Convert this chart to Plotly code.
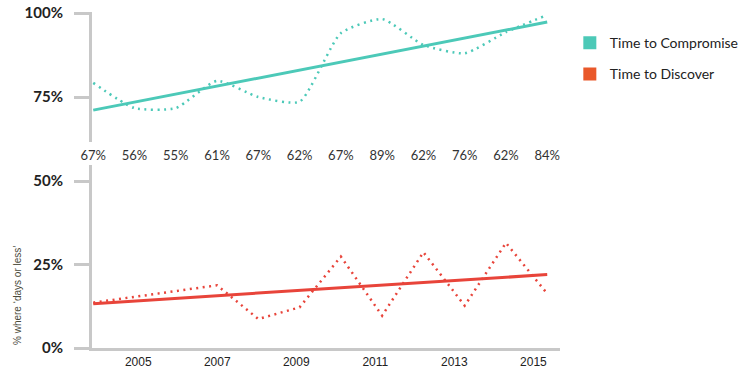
import plotly.graph_objects as go
from plotly.subplots import make_subplots

# ---- data ----
point_labels = ["67%", "56%", "55%", "61%", "67%", "62%", "67%", "89%", "62%", "76%", "62%", "84%"]
compromise = [79.2, 71.7, 71.7, 79.8, 75.0, 73.6, 94.0, 98.2, 90.5, 88.0, 94.3, 99.4]
compromise_trend = [71.1, 97.3]
discover = [13.6, 15.3, 17.1, 18.8, 8.7, 12.2, 27.4, 9.7, 28.7, 12.7, 31.5, 16.3]
discover_trend = [13.3, 22.0]
year_labels = ["2005", "2007", "2009", "2011", "2013", "2015"]
top_ticks = [75, 100]
bottom_ticks = [0, 25, 50]

TEAL = "#4cc9b8"
RED = "#e8443a"
LEG_TEAL = "#4cc9b7"
LEG_RED = "#e9582a"
AXIS = "#c8c8c8"
DOTS = "2px,4.5px"

idx = list(range(len(point_labels)))
ends = [idx[0], idx[-1]]
# year tick positions on the index scale (first year label sits just after point 1)
year_pos = [1.09 + k * 1.915 for k in range(len(year_labels))]

fig = make_subplots(rows=2, cols=1, shared_xaxes=False, vertical_spacing=0.0)

fig.add_trace(go.Scatter(x=idx, y=compromise, mode="lines",
                         line=dict(color=TEAL, width=2.5, dash=DOTS, shape="spline", smoothing=0.55),
                         showlegend=False, hoverinfo="skip"), row=1, col=1)
fig.add_trace(go.Scatter(x=ends, y=compromise_trend, mode="lines",
                         line=dict(color=TEAL, width=3), showlegend=False), row=1, col=1)
fig.add_trace(go.Scatter(x=idx, y=discover, mode="lines",
                         line=dict(color=RED, width=2.5, dash=DOTS),
                         showlegend=False, hoverinfo="skip"), row=2, col=1)
fig.add_trace(go.Scatter(x=ends, y=discover_trend, mode="lines",
                         line=dict(color=RED, width=3), showlegend=False), row=2, col=1)

# legend entries (square swatches)
fig.add_trace(go.Scatter(x=[None], y=[None], mode="markers", name="Time to Compromise",
                         marker=dict(symbol="square", size=13, color=LEG_TEAL),
                         legendgroup="a"), row=1, col=1)
fig.add_trace(go.Scatter(x=[None], y=[None], mode="markers", name="Time to Discover",
                         marker=dict(symbol="square", size=13, color=LEG_RED),
                         legendgroup="b"), row=1, col=1)

xr = [-0.03, 11.31]
pct = lambda vals: [f"{v}%" for v in vals]
ytick_font = dict(family="Lato", size=15, color="#222", weight="bold")
fig.update_layout(
    width=751, height=375,
    margin=dict(l=92, r=191, t=12, b=27, autoexpand=False),
    plot_bgcolor="white", paper_bgcolor="white",
    font=dict(family="Lato", color="#222"),
    showlegend=True,
    legend=dict(x=1.021, y=0.955, xanchor="left", yanchor="top",
                font=dict(family="Lato", size=14, color="#222"),
                traceorder="grouped", tracegroupgap=10,
                bgcolor="rgba(0,0,0,0)"),
    xaxis=dict(domain=[0, 1], range=xr, tickmode="array", tickvals=idx, ticktext=point_labels,
               showline=False, showgrid=False, zeroline=False, ticks="", automargin=False,
               tickfont=dict(family="Lato", size=13, color="#333"), ticklabelstandoff=4),
    yaxis=dict(domain=[0.613, 1], range=[61.6, 100.3], tickmode="array", tickvals=top_ticks,
               ticktext=pct(top_ticks), automargin=False,
               showline=True, linecolor=AXIS, linewidth=3, showgrid=False, zeroline=False,
               ticks="outside", ticklen=15, tickwidth=3, tickcolor=AXIS,
               tickfont=ytick_font, ticklabelstandoff=8),
    xaxis2=dict(domain=[0, 1], range=xr, tickmode="array", tickvals=year_pos, ticktext=year_labels,
                showline=True, linecolor=AXIS, linewidth=3, showgrid=False, zeroline=False, ticks="",
                automargin=False,
                tickfont=dict(family="Liberation Sans", size=12, color="#222", weight="normal"),
                ticklabelstandoff=1),
    yaxis2=dict(domain=[0, 0.545], range=[0, 54.9], tickmode="array", tickvals=bottom_ticks,
                ticktext=pct(bottom_ticks), automargin=False,
                showline=True, linecolor=AXIS, linewidth=3, showgrid=False, zeroline=False,
                ticks="outside", ticklen=15, tickwidth=3, tickcolor=AXIS,
                tickfont=ytick_font, ticklabelstandoff=8),
)

fig.add_annotation(text="% where \u2018days or less\u2019", xref="paper", yref="paper",
                   x=-0.158, y=0.155, xanchor="center", yanchor="middle",
                   textangle=-90, showarrow=False,
                   font=dict(family="Liberation Sans", size=10, color="#4a4a3a"))

fig.write_html("out.html", config={"displayModeBar": False},
               post_script="document.body.style.margin='0px';document.body.style.overflow='hidden';")
